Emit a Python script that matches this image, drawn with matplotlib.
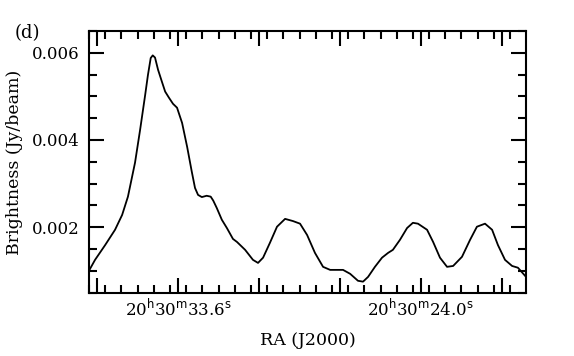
import numpy as np
import matplotlib.pyplot as plt
from matplotlib.ticker import MultipleLocator, FixedLocator, FixedFormatter

# perfil de brillantor al llarg de l'AR (segons de temps a partir de 20h30m)
ra = [37.12, 36.88, 36.48, 36.09, 35.81, 35.58, 35.30, 35.10, 34.90, 34.79,
      34.68, 34.60, 34.51, 34.39, 34.24, 34.11, 33.96, 33.80, 33.64, 33.44,
      33.24, 33.06, 32.93, 32.81, 32.66, 32.47, 32.31, 32.21, 32.07, 31.87,
      31.67, 31.43, 31.27, 30.95,
      30.64, 30.44, 30.24, 29.97, 29.69, 29.37, 29.06, 28.78, 28.50, 28.19,
      27.87, 27.59, 27.08, 26.80, 26.49, 26.29, 26.09, 25.82, 25.54, 25.30,
      25.11, 24.83, 24.55, 24.32, 24.12, 23.76, 23.52, 23.25, 22.97, 22.73,
      22.38, 22.06, 21.79, 21.47, 21.19, 20.96, 20.68, 20.40, 20.17, 19.85]
bri = [0.00100, 0.00125, 0.00159, 0.00194, 0.00228, 0.00270, 0.00348, 0.00423, 0.00503, 0.00549,
       0.00588, 0.00594, 0.00589, 0.00561, 0.00534, 0.00511, 0.00497, 0.00483, 0.00474, 0.00439,
       0.00384, 0.00328, 0.00290, 0.00274, 0.00269, 0.00272, 0.00270, 0.00261, 0.00244, 0.00217,
       0.00198, 0.00173, 0.00166, 0.00148,
       0.00125, 0.00118, 0.00130, 0.00164, 0.00201, 0.00219, 0.00214, 0.00208, 0.00182, 0.00141,
       0.00109, 0.00102, 0.00102, 0.00093, 0.00077, 0.00075, 0.00086, 0.00109, 0.00130, 0.00141,
       0.00148, 0.00171, 0.00198, 0.00210, 0.00208, 0.00194, 0.00166, 0.00130, 0.00109, 0.00111,
       0.00132, 0.00171, 0.00201, 0.00208, 0.00194, 0.00159, 0.00125, 0.00111, 0.00107, 0.00086]

xticks = [36.8, 33.6, 30.4, 27.2, 24.0, 20.8]
xlabels = ['', r'20$^{\rm h}$30$^{\rm m}$33.6$^{\rm s}$', '', '',
           r'20$^{\rm h}$30$^{\rm m}$24.0$^{\rm s}$', '']

plt.rcParams['font.family'] = 'DejaVu Serif'

fig = plt.figure(figsize=(5.74, 3.56), dpi=100)
ax = fig.add_axes([0.155, 0.177, 0.7614, 0.736])
ax.plot(ra, bri, color='black', lw=1.3)

ax.set_xlim(37.12, 19.85)          # AR creix cap a l'esquerra
ax.set_ylim(0.00049, 0.0065)

ax.xaxis.set_major_locator(FixedLocator(xticks))
ax.xaxis.set_major_formatter(FixedFormatter(xlabels))
ax.xaxis.set_minor_locator(MultipleLocator(0.64))
ax.yaxis.set_major_locator(MultipleLocator(0.002))
ax.yaxis.set_minor_locator(MultipleLocator(0.0005))
ax.yaxis.set_major_formatter(plt.FormatStrFormatter('%.3f'))

ax.tick_params(which='both', direction='in', top=True, right=True, width=1.5, labelsize=12)
ax.tick_params(which='major', length=11)
ax.tick_params(which='minor', length=5.5)
ax.tick_params(axis='x', which='major', pad=4)
ax.tick_params(axis='y', which='major', pad=7)
for s in ax.spines.values():
    s.set_linewidth(1.5)

ax.set_xlabel('RA (J2000)', fontsize=12.5, labelpad=9)
ax.set_ylabel('Brightness (Jy/beam)', fontsize=12.5, labelpad=6)
fig.text(0.026, 0.893, '(d)', fontsize=13)

fig.savefig('out.png', dpi=100)
